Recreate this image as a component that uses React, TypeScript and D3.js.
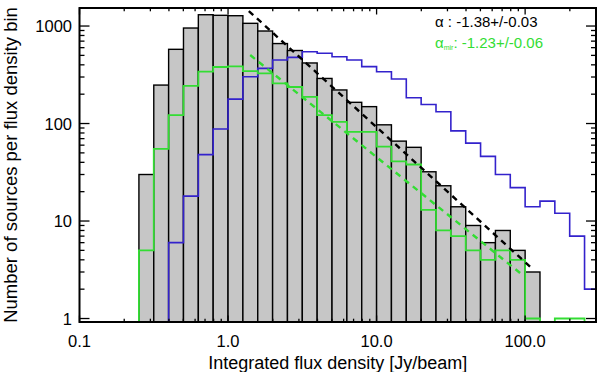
import React from "react";
import * as d3 from "d3";

// histogram bins, lower edge in log10(Jy/beam), width 0.1 dex
const binLo = [
  -0.6, -0.5, -0.4, -0.3, -0.2, -0.1, 0.0, 0.1, 0.2, 0.3, 0.4, 0.5, 0.6, 0.7, 0.8, 0.9,
  1.0, 1.1, 1.2, 1.3, 1.4, 1.5, 1.6, 1.7, 1.8, 1.9, 2.0, 2.1, 2.2, 2.3, 2.4,
];
const binDex = 0.1;

// all sources (grey bars)
const countsAll = [
  30, 248, 577, 954, 1306, 1288, 1276, 1066, 889, 661, 561, 418, 290, 221, 165, 149,
  97, 66, 57, 32, 23, 14, 9, 6, 8, 5, 3, 0, 0, 0, 0,
];
// mir sources (green steps)
const countsMir = [
  5, 55, 122, 243, 340, 380, 386, 345, 327, 258, 237, 188, 122, 104, 82, 82,
  58, 41, 38, 13, 8, 7, 5, 4, 5, 4, 1, 0, 1, 1, 0,
];
// blue steps
const countsBlue = [
  0, 0, 6, 18, 48, 88, 178, 302, 368, 448, 477, 545, 525, 484, 448, 383,
  340, 286, 184, 157, 132, 84, 63, 46, 30, 22, 14, 16, 12, 7, 2,
];

// power-law fits, end points [flux, count]
const fitAll: [number, number][] = [[1.38, 1425], [108, 3.4]];
const fitMir: [number, number][] = [[1.41, 504], [92.5, 2.93]];

const xMajor = [0.1, 1, 10, 100];
const xMajorLabels = ["0.1", "1.0", "10.0", "100.0"];
const yMajor = [1, 10, 100, 1000];
const yMajorLabels = ["1", "10", "100", "1000"];

const legendAll = "\u03b1 : -1.38+/-0.03";
const legendMir = ": -1.23+/-0.06";

const W = 600;
const H = 372;
const m = { left: 79.5, right: 596, top: 8, bottom: 322 };
const FONT = "'Liberation Sans', Arial, Helvetica, sans-serif";
const GREEN = "#33dd33";
const BLUE = "#3322cc";

export default function App() {
  const x = d3.scaleLog().domain([0.1, 300]).range([m.left, m.right]);
  const y = d3.scaleLog().domain([0.921, 1531]).range([m.bottom, m.top]);
  const floor = m.bottom + 6;

  const lo = (i: number) => x(Math.pow(10, binLo[i]));
  const hi = (i: number) => x(Math.pow(10, binLo[i] + binDex));

  const stepPath = (counts: number[]) => {
    const pts: [number, number][] = [[lo(0), floor]];
    counts.forEach((v, i) => {
      const yy = v > 0 ? y(v) : floor;
      pts.push([lo(i), yy], [hi(i), yy]);
    });
    pts.push([hi(counts.length - 1), floor]);
    return d3.line()(pts) || "";
  };

  const fitLine = d3
    .line<[number, number]>()
    .x((d) => x(d[0]))
    .y((d) => y(d[1]));

  const xTicks = x.ticks();
  const yTicks = y.ticks();
  const isMajor = (v: number) => Math.abs(Math.log10(v) - Math.round(Math.log10(v))) < 1e-6;

  const xLen = 6.5, xMin = 3.3, yLen = 10, yMin = 5;

  return (
    <svg
      width={W}
      height={H}
      style={{ position: "fixed", left: 0, top: 0, background: "#fff" }}
      fontFamily={FONT}
    >
      <defs>
        <clipPath id="plot">
          <rect x={m.left} y={m.top} width={m.right - m.left} height={m.bottom - m.top} />
        </clipPath>
      </defs>

      <g clipPath="url(#plot)">
        {countsAll.map((v, i) =>
          v > 0 ? (
            <rect
              key={i}
              x={lo(i)}
              y={y(v)}
              width={hi(i) - lo(i)}
              height={floor - y(v)}
              fill="#c6c6c6"
              stroke="#000"
              strokeWidth={1.4}
            />
          ) : null
        )}
        <path d={stepPath(countsBlue)} fill="none" stroke={BLUE} strokeWidth={1.6} />
        <path d={stepPath(countsMir)} fill="none" stroke={GREEN} strokeWidth={1.8} />
        <path
          d={fitLine(fitAll) || ""}
          fill="none"
          stroke="#000"
          strokeWidth={2.4}
          strokeDasharray="6,5"
        />
        <path
          d={fitLine(fitMir) || ""}
          fill="none"
          stroke={GREEN}
          strokeWidth={2.4}
          strokeDasharray="6,5"
        />
      </g>

      {/* ticks on all four sides, pointing in */}
      <g stroke="#000" strokeWidth={1.3}>
        {xTicks.map((t, i) => {
          const L = isMajor(t) ? xLen : xMin;
          const px = x(t);
          return (
            <g key={"x" + i}>
              <line x1={px} x2={px} y1={m.bottom} y2={m.bottom - L} />
              <line x1={px} x2={px} y1={m.top} y2={m.top + L} />
            </g>
          );
        })}
        {yTicks.map((t, i) => {
          const L = isMajor(t) ? yLen : yMin;
          const py = y(t);
          return (
            <g key={"y" + i}>
              <line x1={m.left} x2={m.left + L} y1={py} y2={py} />
              <line x1={m.right} x2={m.right - L} y1={py} y2={py} />
            </g>
          );
        })}
      </g>

      <rect
        x={m.left}
        y={m.top}
        width={m.right - m.left}
        height={m.bottom - m.top}
        fill="none"
        stroke="#000"
        strokeWidth={2}
      />

      <g fontSize={16.5} fill="#000">
        {xMajor.map((t, i) => (
          <text key={i} x={x(t)} y={347} textAnchor="middle">
            {xMajorLabels[i]}
          </text>
        ))}
        {yMajor.map((t, i) => (
          <text key={i} x={72} y={y(t) + 6} textAnchor="end">
            {yMajorLabels[i]}
          </text>
        ))}
      </g>

      <text x={(m.left + m.right) / 2} y={369} textAnchor="middle" fontSize={18}>
        Integrated flux density [Jy/beam]
      </text>
      <text
        transform={`translate(17,${(m.top + m.bottom) / 2}) rotate(-90)`}
        textAnchor="middle"
        fontSize={18.5}
      >
        Number of sources per flux density bin
      </text>

      <text x={435} y={27} fontSize={15} fill="#000">
        {legendAll}
      </text>
      <text x={435} y={48} fontSize={15} fill={GREEN}>
        {"\u03b1"}
        <tspan fontSize={7} dy={2}>
          mir
        </tspan>
        <tspan dy={-2}>{legendMir}</tspan>
      </text>
    </svg>
  );
}
